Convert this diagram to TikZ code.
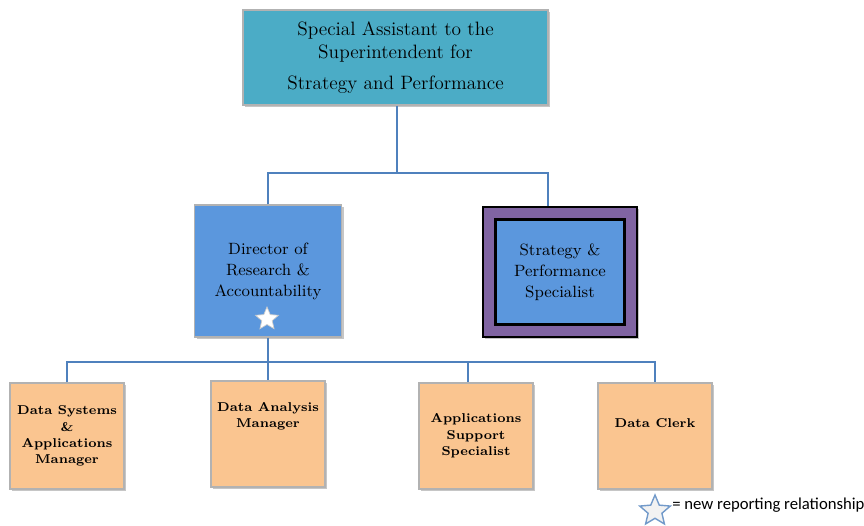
\documentclass[tikz,border=0pt]{standalone}
\usepackage{fontspec}
\usepackage{xcolor}
\usepackage{tikz}
\usetikzlibrary{shadows,shapes.geometric}
\newfontfamily\legendfont{Carlito}

\definecolor{topteal}{HTML}{4BACC6}
\definecolor{midblue}{HTML}{5B97DD}
\definecolor{peach}{HTML}{FAC590}
\definecolor{boxpurple}{HTML}{8064A2}
\definecolor{linkblue}{HTML}{4F81BD}

\tikzset{
  orgbox/.style={draw=gray!60,line width=0.6pt,drop shadow={shadow xshift=1.2pt,shadow yshift=-1.2pt,opacity=0.45},align=center,inner sep=0pt},
  staffbox/.style={orgbox,fill=peach,minimum width=114*0.02cm,minimum height=106*0.02cm,font=\fontsize{7.3}{9.3}\selectfont\bfseries},
  newstar/.style={star,star points=5,star point ratio=2.2,inner sep=0pt},
  link/.style={draw=linkblue,line width=0.7pt},
}

\begin{document}
\begin{tikzpicture}[x=0.02cm,y=-0.02cm]
    \useasboundingbox (0,0) rectangle (864,525);
    % top
    \node[orgbox,fill=topteal,minimum width=305*0.02cm,minimum height=95*0.02cm,font=\fontsize{11}{13}\selectfont] (ssa) at (395.5,57.5)
      {Special Assistant to the\\Superintendent for\\[5pt]Strategy and Performance};
    % second row
    \node[orgbox,fill=midblue,minimum width=147*0.02cm,minimum height=132*0.02cm,font=\fontsize{9.3}{12}\selectfont] (dra) at (268,271)
      {Director of\\Research \&\\Accountability};
    \node[draw=black,line width=1.2pt,fill=boxpurple,minimum width=154*0.02cm,minimum height=130*0.02cm,drop shadow={shadow xshift=1.2pt,shadow yshift=-1.2pt,opacity=0.45}] (spo) at (560,272) {};
    \node[draw=black,line width=1.2pt,fill=midblue,minimum width=129*0.02cm,minimum height=105*0.02cm,align=center,inner sep=0pt,font=\fontsize{9.3}{12}\selectfont] (spi) at (spo.center)
      {Strategy \&\\Performance\\Specialist};
    \node[newstar,fill=white,draw=gray!40,minimum size=24*0.02cm] (str) at (267,319) {};
    % third row
    \node[staffbox] (dsa) at (67,436) {Data Systems\\\&\\Applications\\Manager};
    \node[staffbox] (dam) at (268,434) {Data Analysis\\Manager\\[12pt]};
    \node[staffbox] (ass) at (476,436) {Applications\\Support\\Specialist};
    \node[staffbox] (dcl) at (655,436) {Data Clerk\\[6pt]};
    % connectors
    \coordinate (t1) at (397,173);
    \coordinate (t2) at (268,362);
    \coordinate (d3) at (468,362);
    \coordinate (r1) at (548,173);
    \draw[link] (ssa.south -| t1) -- (t1);
    \draw[link] (dra.north) |- (r1) -- (spo.north -| r1);
    \draw[link] (dra.south) -- (t2);
    \draw[link] (dsa.north) |- (t2) -| (dcl.north);
    \draw[link] (t2) -- (dam.north);
    \draw[link] (d3) -- (ass.north -| d3);
    % legend
    \node[newstar,fill=gray!10,draw=linkblue!80,line width=0.8pt,minimum size=32*0.02cm] (lstar) at (655,511) {};
    \node[anchor=west,inner sep=0pt,font=\legendfont\fontsize{9.5}{11}\selectfont] (ltxt) at (672,505) {= new reporting relationship};
\end{tikzpicture}
\end{document}
